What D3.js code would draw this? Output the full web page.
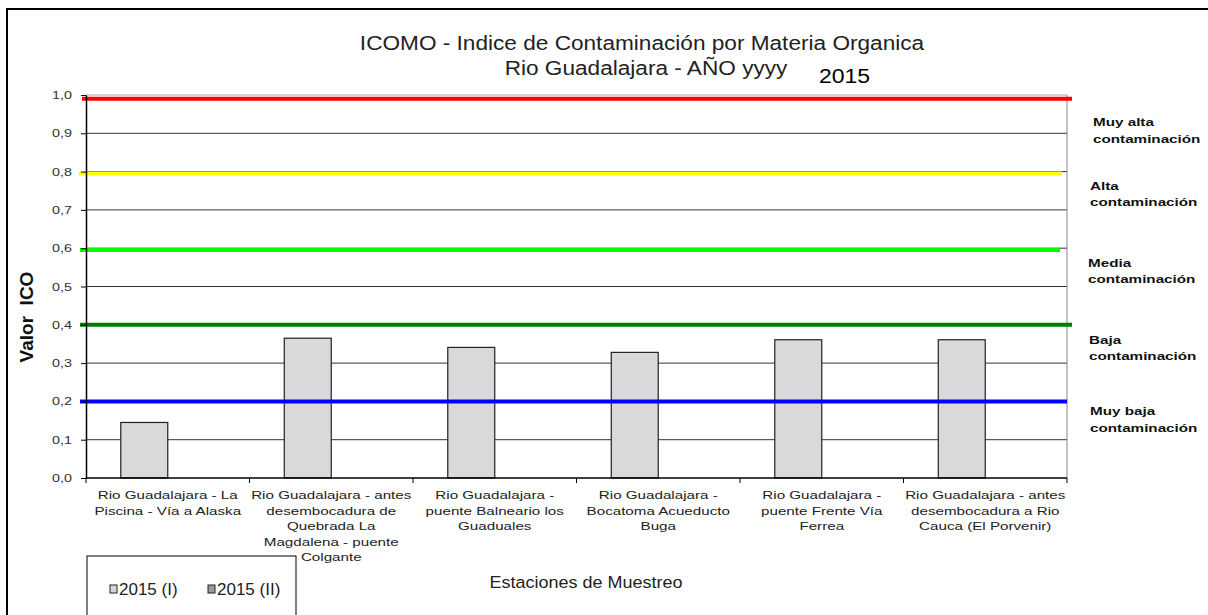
<!DOCTYPE html>
<html>
<head>
<meta charset="utf-8">
<script src="https://cdn.jsdelivr.net/npm/d3@7"></script>
<style>
  html, body { margin: 0; padding: 0; background: #fff; overflow: hidden; }
  svg { display: block; font-family: 'Liberation Sans', Arial, sans-serif; }
</style>
</head>
<body>
<div id="chart"></div>
<script>
// estaciones (etiquetas en varias lineas)
const stations = [
  ['Rio Guadalajara - La', 'Piscina - Vía a Alaska'],
  ['Rio Guadalajara - antes', 'desembocadura de', 'Quebrada La', 'Magdalena - puente', 'Colgante'],
  ['Rio Guadalajara -', 'puente Balneario los', 'Guaduales'],
  ['Rio Guadalajara -', 'Bocatoma Acueducto', 'Buga'],
  ['Rio Guadalajara -', 'puente Frente Vía', 'Ferrea'],
  ['Rio Guadalajara - antes', 'desembocadura a Rio', 'Cauca (El Porvenir)']
]
const series = ['2015 (I)', '2015 (II)']
const ico2015I = [0.145, 0.365, 0.341, 0.328, 0.361, 0.361]
const ico2015II = [null, null, null, null, null, null]
const yTicks = [0, 0.1, 0.2, 0.3, 0.4, 0.5, 0.6, 0.7, 0.8, 0.9, 1.0]

// umbrales de contaminacion
const thresholdValues = [0.99, 0.795, 0.595, 0.4, 0.2]
const thresholdColors = ['#ff0000', '#ffff00', '#00ff00', '#008000', '#0000ff']

// etiquetas de rangos
const rangeLabels = [
  ['Muy alta', 'contaminación'],
  ['Alta', 'contaminación'],
  ['Media', 'contaminación'],
  ['Baja', 'contaminación'],
  ['Muy baja', 'contaminación']
]
const rangeLabelValues = [0.918, 0.752, 0.551, 0.35, 0.164]

const W = 1208
const H = 615
const margin = { top: 95, right: 141, bottom: 137, left: 86 }
const width = W - margin.left - margin.right
const height = H - margin.top - margin.bottom

const svg = d3.select('#chart').append('svg')
  .attr('width', W)
  .attr('height', H)

// texto estirado en horizontal, como en la imagen original
function stretchedText (parent, x, yPos, lines, opts) {
  const t = parent.append('g')
    .attr('transform', `translate(${x},${yPos}) scale(${opts.sx || 1},1)`)
    .append('text')
    .attr('text-anchor', opts.anchor || 'start')
    .attr('fill', opts.fill || '#222')
    .style('font-size', opts.size + 'px')
    .style('font-weight', opts.weight || 'normal')
  t.selectAll('tspan')
    .data(lines)
    .join('tspan')
    .attr('x', 0)
    .attr('y', (d, j) => j * (opts.lh || 0))
    .text(d => d)
  return t
}

// marco exterior (solo bordes izquierdo y superior quedan dentro)
svg.append('path')
  .attr('d', `M7,${H}V9H${W}`)
  .attr('fill', 'none')
  .attr('stroke', '#000')
  .attr('stroke-width', 2)

const g = svg.append('g')
  .attr('transform', `translate(${margin.left},${margin.top})`)

const x0 = d3.scaleBand()
  .domain(d3.range(stations.length))
  .range([0, width])

const x1 = d3.scaleBand()
  .domain(series)
  .range([0, x0.bandwidth()])
  .paddingOuter(0.74)

const y = d3.scaleLinear()
  .domain([0, 1])
  .range([height, 0])

// lineas de cuadricula
g.append('g')
  .selectAll('line')
  .data(yTicks.filter(d => d > 0 && d < 1))
  .join('line')
  .attr('x1', 0).attr('x2', width)
  .attr('y1', d => y(d)).attr('y2', d => y(d))
  .attr('stroke', '#333')
  .attr('stroke-width', 1)

// borde superior y derecho del area de trazado
g.append('line')
  .attr('x1', 0).attr('x2', width)
  .attr('y1', y(1)).attr('y2', y(1))
  .attr('stroke', '#aaa')
g.append('line')
  .attr('x1', width).attr('x2', width)
  .attr('y1', y(1)).attr('y2', y(0))
  .attr('stroke', '#888')

// barras
const rows = stations.map((s, i) => ({ i, values: [ico2015I[i], ico2015II[i]] }))
const groups = g.append('g')
  .selectAll('g')
  .data(rows)
  .join('g')
  .attr('transform', d => `translate(${x0(d.i)},0)`)

groups.selectAll('rect')
  .data(d => series.map((s, k) => ({ s, v: d.values[k] })).filter(d => d.v != null))
  .join('rect')
  .attr('x', d => x1(d.s))
  .attr('width', x1.bandwidth())
  .attr('y', d => y(d.v))
  .attr('height', d => y(0) - y(d.v))
  .attr('fill', '#d9d9d9')
  .attr('stroke', '#222')
  .attr('stroke-width', 1.2)

// lineas de umbral
const thresholdExtents = [[-4, 5], [-7, -5], [-6, -7], [-6, 5], [-6, 0]]
g.append('g')
  .selectAll('line')
  .data(thresholdValues)
  .join('line')
  .attr('x1', (d, i) => thresholdExtents[i][0])
  .attr('x2', (d, i) => width + thresholdExtents[i][1])
  .attr('y1', d => y(d)).attr('y2', d => y(d))
  .attr('stroke', (d, i) => thresholdColors[i])
  .attr('stroke-width', 4)

// eje Y
const yAxis = g.append('g')
  .call(d3.axisLeft(y).tickValues(yTicks).tickSize(5).tickSizeOuter(0).tickFormat(''))
yAxis.select('.domain').attr('stroke', '#000').attr('stroke-width', 1.5)
yAxis.selectAll('.tick line').attr('stroke', '#000')
yTicks.forEach(v => {
  stretchedText(g, -14, y(v) + 4, [d3.format('.1f')(v).replace('.', ',')],
    { size: 11.5, sx: 1.25, anchor: 'end', fill: '#333' })
})

// eje X
const xAxisG = g.append('g')
  .attr('transform', `translate(0,${height})`)
xAxisG.append('line')
  .attr('x1', 0).attr('x2', width)
  .attr('stroke', '#000').attr('stroke-width', 1.5)
xAxisG.selectAll('line.tk')
  .data(d3.range(stations.length + 1))
  .join('line')
  .attr('class', 'tk')
  .attr('x1', d => d * x0.step()).attr('x2', d => d * x0.step())
  .attr('y1', 0).attr('y2', 5)
  .attr('stroke', '#000')

stations.forEach((lines, i) => {
  stretchedText(xAxisG, x0(i) + x0.bandwidth() / 2, 21, lines,
    { size: 11.5, sx: 1.32, anchor: 'middle', lh: 15.6, fill: '#222' })
})

// etiquetas de rangos a la derecha
const rangeLabelX = [1093, 1090, 1088, 1089, 1090]
rangeLabels.forEach((lines, i) => {
  stretchedText(svg, rangeLabelX[i], margin.top + y(rangeLabelValues[i]), lines,
    { size: 11.2, sx: 1.36, lh: 16.5, weight: 'bold', fill: '#111' })
})

// titulo
stretchedText(svg, 642, 50, ['ICOMO - Indice de Contaminación por Materia Organica'],
  { size: 19.5, sx: 1.16, anchor: 'middle', fill: '#222' })
stretchedText(svg, 646, 75, ['Rio Guadalajara - AÑO yyyy'],
  { size: 19.5, sx: 1.16, anchor: 'middle', fill: '#222' })
stretchedText(svg, 819, 83, ['2015'], { size: 19.5, sx: 1.18, fill: '#000' })

// titulo eje Y
svg.append('text')
  .attr('transform', 'translate(33,317) rotate(-90)')
  .attr('text-anchor', 'middle')
  .attr('fill', '#111')
  .style('font-size', '19px')
  .style('font-weight', 'bold')
  .text('Valor\u00a0\u00a0ICO')

// titulo eje X
stretchedText(svg, 586, 588, ['Estaciones de Muestreo'],
  { size: 17, sx: 1.06, anchor: 'middle', fill: '#222' })

// leyenda
const legend = svg.append('g')
legend.append('rect')
  .attr('x', 87).attr('y', 556)
  .attr('width', 209).attr('height', 80)
  .attr('fill', '#fff')
  .attr('stroke', '#000')
  .attr('stroke-width', 1)
const legendFill = ['#d9d9d9', '#999']
const legendX = [110, 208]
const li = legend.selectAll('g.item')
  .data(series)
  .join('g')
  .attr('class', 'item')
  .attr('transform', (d, i) => `translate(${legendX[i]},585)`)
li.append('rect')
  .attr('width', 7).attr('height', 8)
  .attr('fill', (d, i) => legendFill[i])
  .attr('stroke', '#222')
  .attr('stroke-width', 1)
li.append('text')
  .attr('x', 9).attr('y', 10)
  .attr('fill', '#222')
  .style('font-size', '17px')
  .text(d => d)
</script>
</body>
</html>
